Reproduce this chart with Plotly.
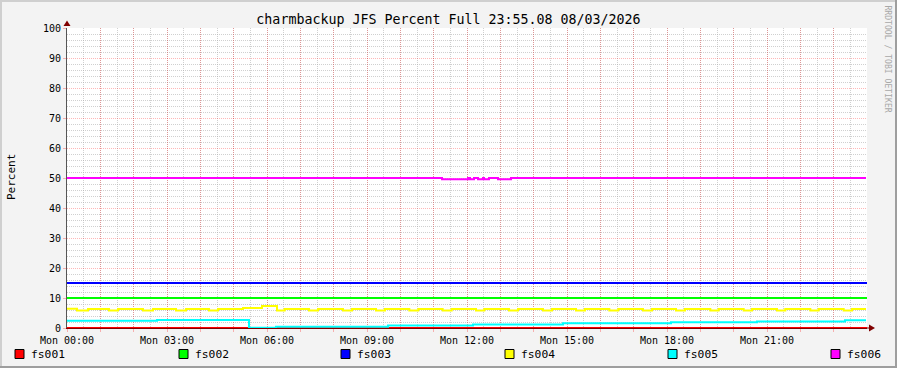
import plotly.graph_objects as go
import pandas as pd

# ---------------- data ----------------
series_names = ["fs001", "fs002", "fs003", "fs004", "fs005", "fs006"]
series_colors = ["#FF0000", "#00FF00", "#0000FF", "#FFFF00", "#00FFFF", "#FF00FF"]

fs001_hours = [0, 24]
fs001_values = [0.0, 0.0]

fs002_hours = [0, 24]
fs002_values = [10.0, 10.0]

fs003_hours = [0, 24]
fs003_values = [15.0, 15.0]

fs004_hours = [0.00, 0.30, 0.63, 1.26, 1.53, 2.28, 2.58, 3.27, 3.57, 4.26, 4.53,
               5.28, 5.85, 6.30, 6.53, 7.26, 7.53, 8.28, 8.55, 9.27, 9.54,
               10.27, 10.54, 11.27, 11.54, 12.27, 12.52, 13.26, 13.53, 14.28, 14.55,
               15.27, 15.54, 16.27, 16.54, 17.28, 17.55, 18.27, 18.54, 19.30, 19.55,
               20.30, 20.55, 21.30, 21.55, 22.30, 22.55, 23.30, 23.55, 23.97]
fs004_values = [6.4, 5.8, 6.3, 5.8, 6.3, 5.8, 6.3, 5.8, 6.3, 5.8, 6.3,
                6.7, 7.3, 5.8, 6.3, 5.8, 6.3, 5.8, 6.3, 5.8, 6.3,
                5.8, 6.3, 5.8, 6.3, 5.8, 6.3, 5.8, 6.3, 5.8, 6.3,
                5.8, 6.3, 5.8, 6.3, 5.8, 6.3, 5.8, 6.3, 5.8, 6.3,
                5.8, 6.3, 5.8, 6.3, 5.8, 6.3, 5.8, 6.3, 6.3]

fs005_hours = [0.00, 2.70, 5.46, 6.27, 9.63, 12.18, 14.88, 18.12, 20.70, 23.34, 23.97]
fs005_values = [2.4, 2.7, 0.1, 0.4, 0.8, 1.2, 1.6, 1.9, 2.2, 2.6, 2.6]

fs006_hours = [0.00, 11.25, 12.03, 12.09, 12.21, 12.33, 12.48, 12.51, 12.66, 12.93, 13.32, 23.97]
fs006_values = [50.0, 49.6, 50.0, 49.6, 50.0, 49.6, 50.0, 49.6, 50.0, 49.6, 50.0, 50.0]

x_tick_labels = ["Mon 00:00", "Mon 03:00", "Mon 06:00", "Mon 09:00",
                 "Mon 12:00", "Mon 15:00", "Mon 18:00", "Mon 21:00"]

title_text = "charmbackup JFS Percent Full 23:55.08 08/03/2026"
y_title = "Percent"
watermark = "RRDTOOL / TOBI OETIKER"

# ---------------- figure ----------------
W, H = 897, 368
L, R, T, B = 67, 30, 28, 40
PW, PH = W - L - R, H - T - B
FONT = "DejaVu Sans Mono"

base = pd.Timestamp("2026-03-09 00:00")


def to_time(hours):
    return [(base + pd.to_timedelta(h, unit="h")).strftime("%Y-%m-%d %H:%M:%S") for h in hours]


def px(x, y):
    return (x - L) / PW, (H - B - y) / PH


all_hours = [fs001_hours, fs002_hours, fs003_hours, fs004_hours, fs005_hours, fs006_hours]
all_values = [fs001_values, fs002_values, fs003_values, fs004_values, fs005_values, fs006_values]

fig = go.Figure()
for name, color, hrs, vals in zip(series_names, series_colors, all_hours, all_values):
    fig.add_trace(go.Scatter(x=to_time(hrs), y=vals, mode="lines", name=name,
                             line=dict(color=color, width=2, shape="hv"),
                             showlegend=False, hoverinfo="skip"))

# hourly major ticks, labels every 3 hours
tick_hours = list(range(0, 24))
tick_vals = to_time(tick_hours)
tick_text = []
for h in tick_hours:
    tick_text.append(x_tick_labels[h // 3] if h % 3 == 0 else "")

MGRID = "rgba(255,0,0,0.28)"
GRID = "rgba(170,170,170,0.55)"

fig.update_xaxes(
    type="date",
    range=to_time([0, 24]),
    tickmode="array", tickvals=tick_vals, ticktext=tick_text,
    showgrid=True, gridcolor=MGRID, griddash="1px,1px", gridwidth=1,
    ticks="outside", ticklen=3, tickcolor=MGRID,
    minor=dict(dtick=1800000, showgrid=True, gridcolor=GRID, griddash="1px,1px",
               ticks="", tick0=tick_vals[0]),
    showline=True, linecolor="#800000", linewidth=1,
    tickfont=dict(family=FONT, size=10, color="#000000"),
    zeroline=False, fixedrange=True,
)
fig.update_yaxes(
    range=[0, 100], dtick=10, tick0=0,
    showgrid=True, gridcolor=MGRID, griddash="1px,1px", gridwidth=1,
    ticks="outside", ticklen=3, tickcolor=MGRID,
    minor=dict(dtick=2, showgrid=True, gridcolor=GRID, griddash="1px,1px", ticks=""),
    showline=True, linecolor="#555555", linewidth=1,
    tickfont=dict(family=FONT, size=10, color="#000000"),
    zeroline=False, fixedrange=True,
)

shapes = []
# axis arrows
ax, ay = px(67, 20.5)
bx, by = px(63.5, 26)
cx, cy = px(70.5, 26)
shapes.append(dict(type="path", xref="paper", yref="paper",
                   path=f"M {ax} {ay} L {bx} {by} L {cx} {cy} Z",
                   fillcolor="#800000", line=dict(color="#800000", width=0)))
ax, ay = px(875, 328)
bx, by = px(869, 324.5)
cx, cy = px(869, 331.5)
shapes.append(dict(type="path", xref="paper", yref="paper",
                   path=f"M {ax} {ay} L {bx} {by} L {cx} {cy} Z",
                   fillcolor="#800000", line=dict(color="#800000", width=0)))
x0, y0 = px(867, 328)
x1, _ = px(870, 328)
shapes.append(dict(type="line", xref="paper", yref="paper", x0=x0, y0=y0, x1=x1, y1=y0,
                   line=dict(color="#800000", width=1)))

# 3D frame
for (xa, ya, xb, yb, col) in [(0, 1, W, 1, "#CFCFCF"), (1, 0, 1, H, "#CFCFCF"),
                              (0, H - 1, W, H - 1, "#9E9E9E"), (W - 1, 0, W - 1, H, "#9E9E9E")]:
    p0 = px(xa, ya)
    p1 = px(xb, yb)
    shapes.append(dict(type="line", xref="paper", yref="paper", x0=p0[0], y0=p0[1],
                       x1=p1[0], y1=p1[1], line=dict(color=col, width=2)))

annotations = []
# legend (squares + labels)
legend_x = [15, 179, 341, 505, 668, 831]
for name, color, lx in zip(series_names, series_colors, legend_x):
    s0 = px(lx, 349.5)
    s1 = px(lx + 9, 358.5)
    shapes.append(dict(type="rect", xref="paper", yref="paper", x0=s0[0], y0=s1[1],
                       x1=s1[0], y1=s0[1], fillcolor=color, line=dict(color="#000000", width=1)))
    tx, ty = px(lx + 14, 354)
    annotations.append(dict(text=name, x=tx, y=ty, xref="paper", yref="paper",
                            xanchor="left", yanchor="middle", showarrow=False,
                            font=dict(family=FONT, size=11.3, color="#000000")))

# y-axis unit label
tx, ty = px(11, 177)
annotations.append(dict(text=y_title, x=tx, y=ty, xref="paper", yref="paper", textangle=-90,
                        xanchor="center", yanchor="middle", showarrow=False,
                        font=dict(family=FONT, size=11, color="#000000")))
# watermark
tx, ty = px(887, 59.5)
annotations.append(dict(text=watermark, x=tx, y=ty, xref="paper", yref="paper", textangle=90,
                        xanchor="center", yanchor="middle", showarrow=False,
                        font=dict(family=FONT, size=8.1, color="#A8A8A8")))

fig.update_layout(
    width=W, height=H,
    margin=dict(l=L, r=R, t=T, b=B, pad=0),
    paper_bgcolor="#F3F3F3", plot_bgcolor="#FFFFFF",
    title=dict(text=title_text, x=0.5, xref="container", xanchor="center",
               y=1 - 19 / H, yref="container", yanchor="middle",
               font=dict(family=FONT, size=13.3, color="#000000")),
    showlegend=False,
    shapes=shapes, annotations=annotations,
)

fig.write_html("out.html", config=dict(displayModeBar=False))
